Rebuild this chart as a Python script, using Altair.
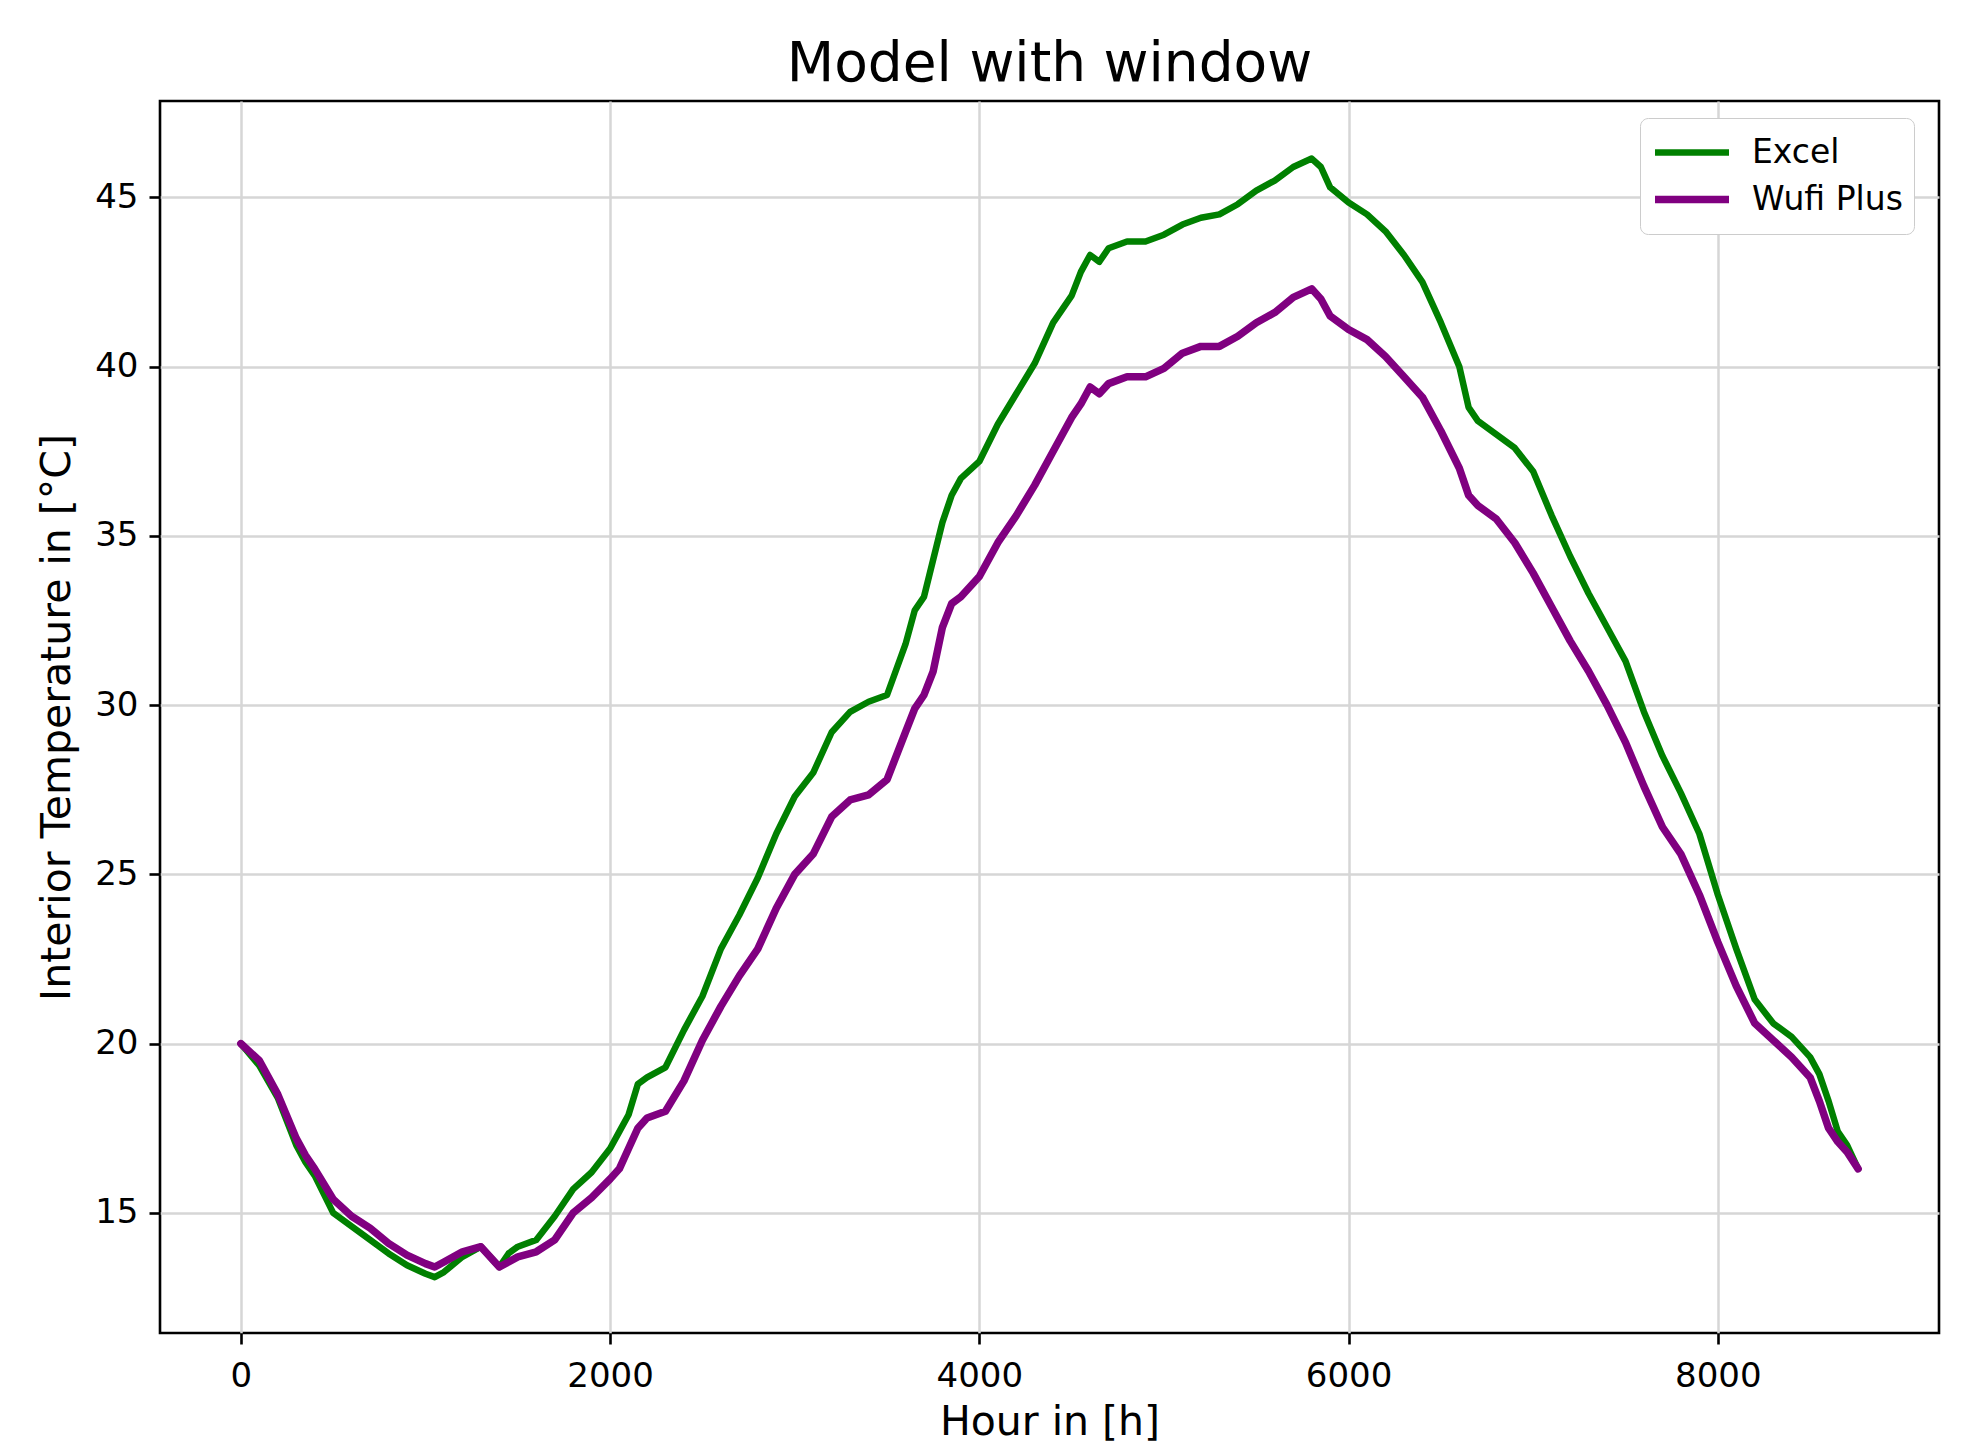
import altair as alt
import pandas as pd

hours = [0, 100, 200, 300, 350, 400, 500, 600, 700, 800, 900, 1000, 1050, 1100, 1200, 1300,
         1400, 1450, 1500, 1600, 1700, 1800, 1900, 2000, 2050, 2100, 2150, 2200, 2300, 2400,
         2500, 2600, 2700, 2800, 2900, 3000, 3100, 3200, 3300, 3400, 3500, 3600, 3650, 3700,
         3750, 3800, 3850, 3900, 4000, 4100, 4200, 4300, 4400, 4500, 4550, 4600, 4650, 4700,
         4800, 4900, 5000, 5100, 5200, 5300, 5400, 5500, 5600, 5700, 5800, 5850, 5900, 6000,
         6100, 6200, 6300, 6400, 6500, 6600, 6650, 6700, 6800, 6900, 7000, 7100, 7200, 7300,
         7400, 7500, 7600, 7700, 7800, 7900, 8000, 8100, 8200, 8300, 8400, 8500, 8550, 8600,
         8650, 8700, 8760]

excel = [20.0, 19.35, 18.4, 17.0, 16.5, 16.1, 15.0, 14.6, 14.2, 13.8, 13.45, 13.2, 13.1, 13.25,
         13.7, 14.0, 13.4, 13.8, 14.0, 14.2, 14.9, 15.7, 16.2, 16.9, 17.4, 17.9, 18.8, 19.0,
         19.3, 20.4, 21.4, 22.8, 23.8, 24.9, 26.2, 27.3, 28.0, 29.2, 29.8, 30.1, 30.3, 31.8,
         32.8, 33.2, 34.3, 35.4, 36.2, 36.7, 37.2, 38.3, 39.2, 40.1, 41.3, 42.1, 42.8, 43.3,
         43.1, 43.5, 43.7, 43.7, 43.9, 44.2, 44.4, 44.5, 44.8, 45.2, 45.5, 45.9, 46.15, 45.9,
         45.3, 44.85, 44.5, 44.0, 43.3, 42.5, 41.3, 40.0, 38.8, 38.4, 38.0, 37.6, 36.9, 35.6,
         34.4, 33.3, 32.3, 31.3, 29.8, 28.5, 27.4, 26.2, 24.4, 22.8, 21.3, 20.6, 20.2, 19.6,
         19.1, 18.3, 17.4, 17.0, 16.3]

wufi = [20.0, 19.5, 18.5, 17.2, 16.7, 16.3, 15.4, 14.9, 14.55, 14.1, 13.75, 13.5, 13.4, 13.55,
        13.85, 14.0, 13.4, 13.55, 13.7, 13.85, 14.2, 15.0, 15.45, 16.0, 16.3, 16.9, 17.5, 17.8,
        18.0, 18.9, 20.1, 21.1, 22.0, 22.8, 24.0, 25.0, 25.6, 26.7, 27.2, 27.35, 27.8, 29.2,
        29.9, 30.3, 31.0, 32.3, 33.0, 33.2, 33.8, 34.8, 35.6, 36.5, 37.5, 38.5, 38.9, 39.4,
        39.2, 39.5, 39.7, 39.7, 39.95, 40.4, 40.6, 40.6, 40.9, 41.3, 41.6, 42.05, 42.3, 42.0,
        41.5, 41.1, 40.8, 40.3, 39.7, 39.1, 38.1, 37.0, 36.2, 35.9, 35.5, 34.8, 33.9, 32.9,
        31.9, 31.0, 30.0, 28.9, 27.6, 26.4, 25.6, 24.4, 23.0, 21.7, 20.6, 20.1, 19.6, 19.0,
        18.3, 17.5, 17.1, 16.8, 16.3]

series_names = ["Excel", "Wufi Plus"]
series_colors = ["#008000", "#800080"]
x_ticks = [0, 2000, 4000, 6000, 8000]
y_ticks = [15, 20, 25, 30, 35, 40, 45]

rows = []
for name, vals in zip(series_names, [excel, wufi]):
    for h, v in zip(hours, vals):
        rows.append({"hour": h, "temp": v, "series": name})
df = pd.DataFrame(rows)

W, H = 1779, 1232
FONT = "DejaVu Sans"

chart = alt.Chart(df).mark_line(strokeJoin="round", strokeCap="round").encode(
    x=alt.X("hour:Q",
            scale=alt.Scale(domain=[-438, 9198], nice=False, zero=False),
            axis=alt.Axis(values=x_ticks, format="d", title="Hour in [h]",
                          labelFontSize=34, labelFont=FONT, labelColor="black",
                          labelBaseline="alphabetic", labelPadding=42,
                          tickSize=11, tickWidth=2.6, tickColor="black",
                          domain=False, grid=True, gridColor="#d6d6d6", gridWidth=2.5,
                          titleFontSize=41, titleFont=FONT, titleFontWeight="normal",
                          titleColor="black", titleX=W / 2, titleY=101,
                          titleBaseline="alphabetic", titleAlign="center")),
    y=alt.Y("temp:Q",
            scale=alt.Scale(domain=[11.45, 47.85], nice=False, zero=False),
            axis=alt.Axis(values=y_ticks, format="d", title="Interior Temperature in [°C]",
                          labelFontSize=34, labelFont=FONT, labelColor="black",
                          labelBaseline="middle", labelPadding=11,
                          tickSize=11, tickWidth=2.6, tickColor="black",
                          domain=False, grid=True, gridColor="#d6d6d6", gridWidth=2.5,
                          titleFontSize=41, titleFont=FONT, titleFontWeight="normal",
                          titleColor="black", titleX=-91, titleY=H / 2, titleAngle=270,
                          titleBaseline="alphabetic", titleAlign="center")),
    color=alt.Color("series:N",
                    scale=alt.Scale(domain=series_names, range=series_colors),
                    legend=alt.Legend(orient="none", legendX=1480, legendY=17, title=None,
                                      symbolType="stroke", symbolSize=5476,
                                      symbolStrokeWidth=6, labelFontSize=33,
                                      labelFont=FONT, labelColor="black",
                                      clipHeight=47, rowPadding=0, padding=11,
                                      labelOffset=19, strokeColor="#cccccc",
                                      fillColor="white", cornerRadius=8)),
    strokeWidth=alt.StrokeWidth("series:N",
                                scale=alt.Scale(domain=series_names, range=[6.5, 7.5]),
                                legend=None),
).properties(
    width=W,
    height=H,
    title=alt.TitleParams("Model with window", fontSize=55, font=FONT, fontWeight="normal",
                          color="black", anchor="middle", frame="group",
                          baseline="alphabetic", offset=20, dy=55),
    autosize=alt.AutoSizeParams(type="none"),
    padding={"left": 152, "top": 93, "right": 20, "bottom": 120},
).configure_view(
    stroke="black", strokeWidth=2.6
)

chart.save("out.html", embed_options={"renderer": "svg", "actions": False})
